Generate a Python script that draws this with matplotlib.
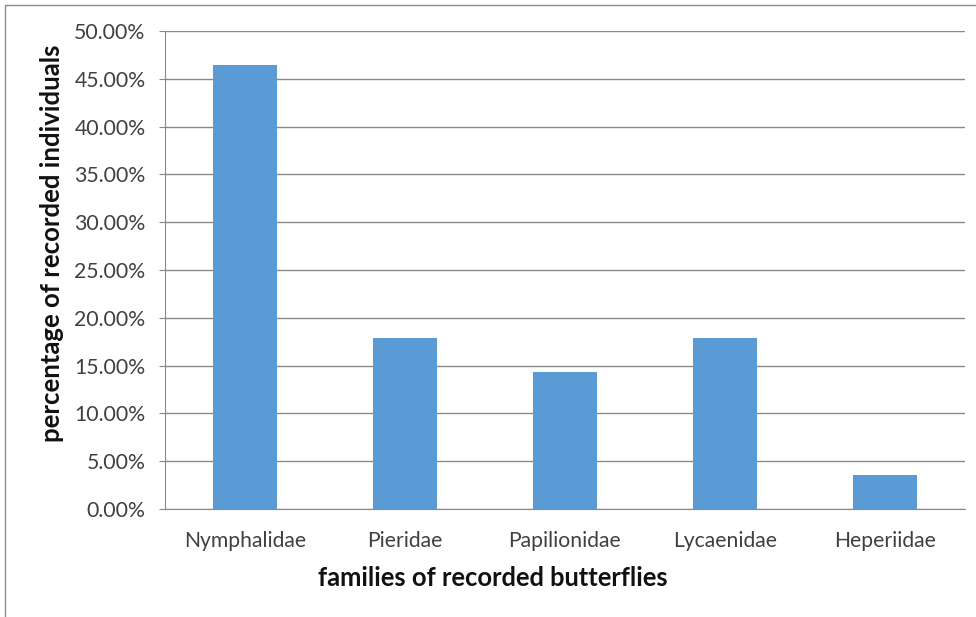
import matplotlib
matplotlib.use("Agg")
import matplotlib.pyplot as plt
from matplotlib.patches import Rectangle
from matplotlib.ticker import FuncFormatter, MultipleLocator

families = ["Nymphalidae", "Pieridae", "Papilionidae", "Lycaenidae", "Heperiidae"]
percentages = [46.43, 17.86, 14.29, 17.86, 3.57]

plt.rcParams['font.family'] = ['Lato', 'DejaVu Sans']

fig = plt.figure(figsize=(9.76, 6.17), dpi=100)
ax = fig.add_axes([165/976, 1 - 509/617, 800/976, (509 - 31)/617])

grid_c = "#898989"
text_c = "#404040"

ax.bar(range(len(families)), percentages, width=0.4, color="#5B9BD5", zorder=3)
ax.set_xlim(-0.5, len(families) - 0.5)
ax.set_ylim(0, 50)
ax.yaxis.set_major_locator(MultipleLocator(5))
ax.yaxis.set_major_formatter(FuncFormatter(lambda v, p: f"{v:.2f}%"))
ax.set_xticks(range(len(families)))
ax.set_xticklabels(families)

ax.grid(axis='y', color=grid_c, linewidth=1.0, zorder=0)
for s in ['top', 'right']:
    ax.spines[s].set_visible(False)
ax.spines['left'].set_color(grid_c)
ax.spines['bottom'].set_color(grid_c)
ax.tick_params(axis='y', length=4, color=grid_c, labelsize=15.3, labelcolor=text_c, pad=10)
ax.tick_params(axis='x', length=0, labelsize=15.2, labelcolor=text_c, pad=16)

fig.text(493/976, 1 - 578/617, "families of recorded butterflies", ha='center', va='center',
         fontsize=18.4, fontweight='bold', color='#111111')
fig.text(52/976, 1 - 243/617, "percentage of recorded individuals", ha='center', va='center',
         rotation=90, fontsize=18.5, fontweight='bold', color='#111111')

border = Rectangle((5/976, -0.1), 1.2, 1 - 5/617 + 0.1, transform=fig.transFigure,
                   fill=False, edgecolor="#8c8c8c", linewidth=1.0)
fig.patches.append(border)

fig.savefig("out.png", dpi=100)
